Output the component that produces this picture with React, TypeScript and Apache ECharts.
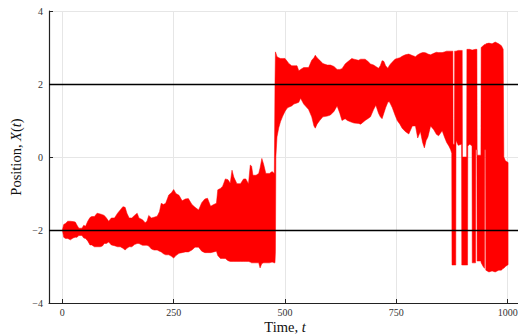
import React, { useEffect, useRef } from "react";
import * as echarts from "echarts";

// Time knots with the lower / upper envelope of the (densely oscillating) position trace
const timeKnots = [
  0, 3, 7, 12, 18, 24, 29, 33, 37, 44, 48, 52, 57, 62, 66, 72, 78, 85, 90, 94, 99, 104, 110, 117, 124, 130,
  136, 141, 145, 150, 156, 162, 168, 172, 180, 186, 190, 194, 200, 206, 213, 218, 222, 227, 232, 239, 245,
  250, 255, 262, 269, 276, 283, 291, 298, 306, 313, 320, 326, 333, 340, 346, 349, 355, 360, 366, 372, 377,
  381, 385, 392, 400, 407, 412, 418, 422, 425, 428, 435, 441, 444, 448, 452, 457, 465, 471, 476, 477.5,
  478.5, 479.5, 482, 486, 490, 495, 500, 505, 508, 515, 520, 527, 531, 535, 542, 553, 560, 565, 568, 572,
  578, 585, 595, 602, 610, 617, 623, 628, 635, 640, 650, 655, 665, 670, 680, 686, 692, 699, 704, 710, 714,
  718, 722, 726, 731, 734, 737, 741, 747, 752, 758, 763, 770, 778, 786, 793, 798, 804, 809, 813, 817, 821,
  827, 834, 840, 845, 853, 858, 863, 868, 872, 874.5, 875, 877, 877.5, 880.5, 881, 883.5, 884, 889, 896.5,
  897, 898, 898.5, 908, 908.5, 910, 910.5, 915, 920, 920.5, 928, 928.5, 931, 931.5, 940, 940.5, 945, 948,
  948.5, 950.5, 951, 958, 965, 972, 980, 986, 990, 991.5, 995, 1001,
];
const lowerEnvelope = [
  -2.0, -2.2, -2.23, -2.23, -2.27, -2.22, -2.2, -2.2, -2.15, -2.15, -2.22, -2.23, -2.3, -2.41, -2.41, -2.46,
  -2.46, -2.46, -2.44, -2.37, -2.37, -2.33, -2.41, -2.43, -2.46, -2.46, -2.5, -2.55, -2.5, -2.46, -2.46,
  -2.4, -2.37, -2.37, -2.42, -2.42, -2.42, -2.44, -2.52, -2.55, -2.55, -2.58, -2.6, -2.65, -2.68, -2.68,
  -2.72, -2.77, -2.7, -2.64, -2.62, -2.6, -2.6, -2.55, -2.47, -2.47, -2.58, -2.62, -2.62, -2.62, -2.6,
  -2.58, -2.7, -2.78, -2.78, -2.78, -2.84, -2.86, -2.86, -2.86, -2.86, -2.86, -2.86, -2.86, -2.86, -2.88,
  -2.9, -2.9, -2.9, -2.9, -3.04, -2.92, -2.9, -2.9, -2.9, -2.88, -2.9, -2.9,
  -2.6, 0.0, 0.55, 0.8, 0.97, 1.12, 1.25, 1.34, 1.36, 1.4, 1.45, 1.48, 1.5, 1.61, 1.45, 1.3, 1.1, 0.85, 0.79,
  0.9, 1.0, 1.1, 1.12, 1.15, 1.25, 1.4, 1.2, 1.0, 1.05, 1.0, 0.95, 0.93, 0.92, 0.9, 1.0, 1.05, 1.1, 1.3, 1.42,
  1.2, 1.1, 1.05, 1.2, 1.35, 1.5, 1.52, 1.45, 1.35, 1.15, 1.0, 0.9, 0.79, 0.7, 0.63, 0.85, 0.85, 0.52, 0.7,
  0.4, 0.25, 0.45, 0.55, 0.85, 0.75, 0.62, 0.58, 0.72, 0.55, 0.4, 0.3, 0.2, 0.1, -2.96, -2.96, -2.96, -2.96,
  -2.96, -2.96, 0.45, 0.32, 0.35, -2.96, -2.96, -2.96, -2.96, -2.96, -2.96, 0.3, 0.35, 0.3, -2.9, -2.9, 0.2,
  0.2, -2.85, -2.85, -2.9, -3.0, -3.05, 0.2, 0.2, -3.1, -3.15, -3.12, -3.15, -3.1, -3.1, -3.05, -3.05, -3.0,
  -2.95,
];
const upperEnvelope = [
  -2.0, -1.85, -1.82, -1.76, -1.76, -1.77, -1.78, -1.87, -1.95, -1.95, -1.87, -1.9, -1.76, -1.66, -1.63,
  -1.63, -1.54, -1.56, -1.58, -1.6, -1.67, -1.76, -1.67, -1.67, -1.54, -1.45, -1.36, -1.38, -1.54, -1.67,
  -1.67, -1.6, -1.54, -1.67, -1.72, -1.8, -1.76, -1.6, -1.67, -1.65, -1.62, -1.5, -1.27, -1.3, -1.27, -1.04,
  -0.98, -0.89, -1.0, -1.05, -1.2, -1.15, -1.14, -1.3, -1.38, -1.45, -1.25, -1.15, -1.13, -1.35, -1.3,
  -1.27, -0.9, -0.86, -0.8, -0.6, -0.62, -0.72, -0.36, -0.55, -0.73, -0.73, -0.6, -0.6, -0.73, -0.22,
  -0.25, -0.5, -0.5, -0.45, -0.3, -0.04, -0.2, -0.45, -0.45, -0.4, -0.45, 2.0,
  2.88, 2.85, 2.75, 2.72, 2.7, 2.7, 2.7, 2.62, 2.57, 2.5, 2.5, 2.5, 2.36, 2.4, 2.45, 2.45, 2.65, 2.72, 2.79,
  2.72, 2.65, 2.56, 2.52, 2.52, 2.48, 2.4, 2.4, 2.42, 2.55, 2.6, 2.7, 2.68, 2.65, 2.68, 2.68, 2.62, 2.55,
  2.52, 2.48, 2.43, 2.5, 2.64, 2.62, 2.5, 2.43, 2.5, 2.55, 2.6, 2.68, 2.7, 2.72, 2.76, 2.8, 2.82, 2.78, 2.75,
  2.8, 2.84, 2.86, 2.86, 2.85, 2.82, 2.8, 2.84, 2.87, 2.86, 2.86, 2.88, 2.9, 2.9, 2.9, 2.9, 2.9, 2.9, 0.35,
  0.35, 2.9, 2.9, 2.9, 2.92, 2.92, 2.92, 2.92, 0.0, 0.0, 2.95, 2.95, 2.95, 2.95, 2.93, 2.93, 2.95, 2.95,
  2.95, 0.05, 0.05, 3.0, 3.05, 3.08, 3.08, 3.08, 3.1, 3.12, 3.1, 3.15, 3.1, 3.05, 2.95, 0.0, -0.1, -0.15,
];

const xTicks = [0, 250, 500, 750, 1000];
const yTicks = [-4, -2, 0, 2, 4];
const wellLevels = [-2, 2];

const FONT = "'Liberation Serif', 'Times New Roman', serif";
const fmt = (v: number) => String(v).replace("-", "\u2212");

export default function App() {
  const ref = useRef<HTMLDivElement>(null);

  useEffect(() => {
    if (!ref.current) return;
    const chart = echarts.init(ref.current, null, { renderer: "svg" });
    const bandData = timeKnots.map((t, i) => [t, lowerEnvelope[i], upperEnvelope[i]]);

    const nameRich = {
      r: { fontFamily: FONT, fontSize: 14.5, color: "#111", lineHeight: 15 },
      i: { fontFamily: FONT, fontSize: 14.5, color: "#111", fontStyle: "italic", lineHeight: 15 },
    };

    chart.setOption({
      animation: false,
      backgroundColor: "#ffffff",
      grid: {
        left: 49,
        top: 11,
        width: 472,
        height: 292,
        containLabel: false,
        outerBoundsMode: "none",
      },
      xAxis: {
        type: "value",
        min: -30,
        max: 1030,
        axisLine: { show: true, onZero: false, lineStyle: { color: "#222", width: 1.2 } },
        axisTick: {
          show: true,
          inside: true,
          length: 4,
          customValues: xTicks,
          lineStyle: { color: "#222", width: 1 },
        },
        axisLabel: {
          customValues: xTicks,
          formatter: fmt,
          fontFamily: FONT,
          fontSize: 10,
          color: "#333",
          margin: 4,
        },
        splitLine: { show: true, lineStyle: { color: "#e6e6e6", width: 1 } },
        name: "{r|Time, }{i|t}",
        nameLocation: "middle",
        nameGap: 16,
        nameMoveOverlap: false,
        nameTextStyle: { rich: nameRich, lineHeight: 15 },
      },
      yAxis: {
        type: "value",
        min: yTicks[0],
        max: yTicks[yTicks.length - 1],
        interval: 2,
        axisLine: { show: true, onZero: false, lineStyle: { color: "#222", width: 1.2 } },
        axisTick: { show: true, inside: true, length: 4, lineStyle: { color: "#222", width: 1 } },
        axisLabel: {
          formatter: fmt,
          fontFamily: FONT,
          fontSize: 10,
          color: "#333",
          margin: 6,
        },
        splitLine: { show: true, lineStyle: { color: "#e6e6e6", width: 1 } },
        name: "{r|Position, }{i|X}{r|(}{i|t}{r|)}",
        nameLocation: "middle",
        nameGap: 26,
        nameRotate: 90,
        nameMoveOverlap: false,
        nameTextStyle: { rich: nameRich, lineHeight: 15 },
      },
      series: [
        {
          type: "custom",
          z: 3,
          clip: true,
          silent: true,
          encode: { x: 0, y: [1, 2] },
          data: bandData,
          renderItem: (params: any, api: any) => {
            if (params.dataIndex !== 0) return null;
            const pts: number[][] = [];
            for (let i = 0; i < timeKnots.length; i++) pts.push(api.coord([timeKnots[i], upperEnvelope[i]]));
            for (let i = timeKnots.length - 1; i >= 0; i--) pts.push(api.coord([timeKnots[i], lowerEnvelope[i]]));
            return {
              type: "polygon",
              shape: { points: pts },
              style: { fill: "#ff0000", stroke: "#ff0000", lineWidth: 0.5 },
            };
          },
        },
        {
          type: "line",
          z: 10,
          data: [],
          silent: true,
          markLine: {
            silent: true,
            symbol: "none",
            label: { show: false },
            lineStyle: { color: "#000", width: 1.3, type: "solid" },
            data: wellLevels.map((v) => ({ yAxis: v })),
          },
        },
      ],
    });

    return () => chart.dispose();
  }, []);

  return (
    <div
      ref={ref}
      style={{ position: "fixed", left: 0, top: 0, width: 518, height: 335, background: "#fff" }}
    />
  );
}
